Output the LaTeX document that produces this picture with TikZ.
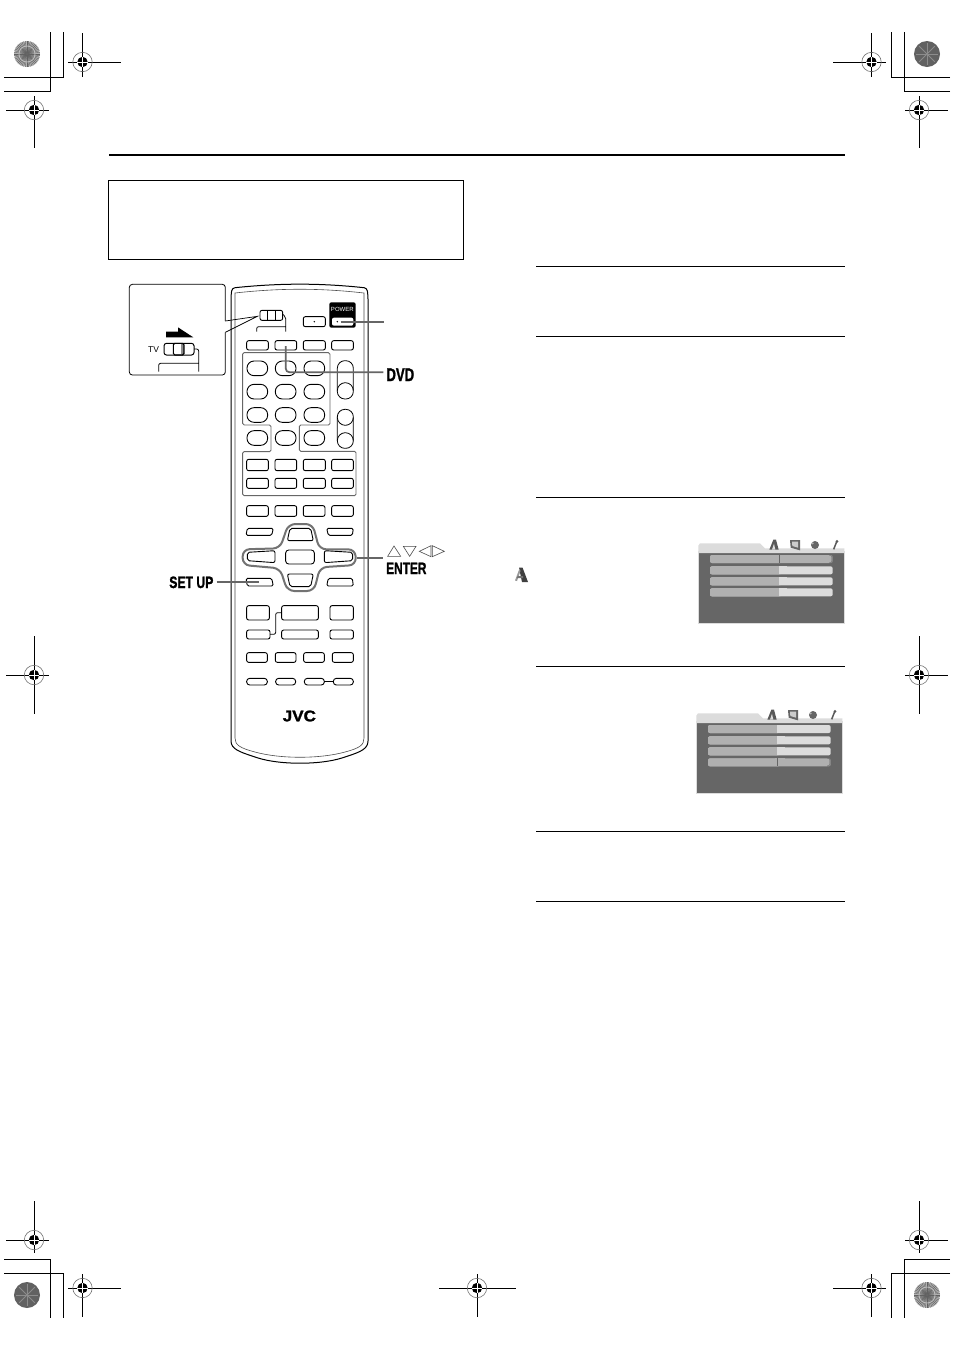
\documentclass[tikz,border=0pt]{standalone}
\usepackage{fontspec}
\setmainfont{Liberation Sans}
\newfontfamily\heavy[FakeBold=1.5]{Liberation Sans Bold}
\definecolor{lead}{HTML}{666666}
\definecolor{panel}{HTML}{666666}
\definecolor{pale}{HTML}{DCDCDC}
\definecolor{midg}{HTML}{B0B0B0}
\tikzset{
  rule/.style={draw=black,line width=1pt},
  crop/.style={draw=black,line width=0.9pt},
  btn/.style={draw=black,line width=0.9pt,rounded corners=2pt,fill=white},
  oval/.style={draw=black,line width=0.9pt,rounded corners=7pt,fill=white},
  group/.style={draw=black!60,line width=0.9pt,rounded corners=1.5pt},
  leader/.style={draw=lead,line width=1.7pt},
  tri/.style={draw=black!70,line width=0.6pt,fill=white},
  lbl/.style={inner sep=0pt,font=\heavy}
}
\newcommand{\regmk}[7]{% x y left right up down name
  \coordinate (#7) at (#1,#2);
  \draw[crop] (#3,#2) -- (#4,#2) (#1,#5) -- (#1,#6);
  \draw[black!55,line width=0.6pt] (#7) circle (9.7);
  \fill[black] (#7) circle (5.2);
  \draw[white,line width=0.6pt] (#1-5.2,#2) -- (#1+5.2,#2) (#1,#2-5.2) -- (#1,#2+5.2);
}
\newcommand{\burst}[2]{%
  \fill[black!30] (#1,#2) circle (13);
  \foreach \a in {0,7.5,...,352.5} {
    \draw[black!62,line width=0.4pt] (#1,#2) -- ++(\a:13);
  }
  \draw[white!75!black,line width=0.7pt] (#1,#2) circle (8);
  \fill[black!60] (#1,#2) circle (1.4);
}
\newcommand{\gdisc}[2]{%
  \fill[black!62] (#1,#2) circle (13);
  \foreach \a in {0,45,...,315} {
    \draw[black!45,line width=1pt] (#1,#2) -- ++(\a:11);
  }
}
\newcommand{\scrn}[4]{% x y bar1color bar4color
  \begin{scope}[shift={(#1,#2)},scale=0.33333]
    \fill[panel] (25,50) rectangle (463,265);
    \draw[pale,line width=0.8pt] (25,50) rectangle (463,265);
    \fill[pale] (25,54) -- (25,32) -- (30,25) -- (210,25) -- (225,40) -- (463,40) -- (463,54) -- cycle;
    \foreach \y/\c in {60/#3,94/pale,127/pale,160/#4} {
      \fill[\c,rounded corners=2pt] (60,\y) rectangle (428,\y+24);
      \fill[midg,rounded corners=2pt] (60,\y) rectangle (276,\y+24);
      \fill[midg] (262,\y) rectangle (268,\y+24);
      \fill[\c] (268,\y) rectangle (290,\y+24);
    }
    % menu icons
    \fill[black!65] (238,44) -- (250,14) -- (258,14) -- (266,44) -- cycle;
    \fill[pale] (246,44) -- (252,26) -- (256,44) -- cycle;
    \fill[black!60] (300,15) -- (330,15) -- (330,46) -- (302,38) -- cycle;
    \fill[black!20] (306,20) -- (324,20) -- (324,38) -- (307,33) -- cycle;
    \fill[black!60] (375,30) circle (12);
    \fill[black!30] (368,25) circle (3.5);
    \draw[black!65,line width=1.5pt] (431,43) -- (440,20);
    \fill[black!65] (441,19) circle (4.5);
  \end{scope}
}
\begin{document}
\begin{tikzpicture}[x=1pt,y=-1pt]
\useasboundingbox (0,0) rectangle (954,1350);
\fill[white] (0,0) rectangle (954,1350);

% crop marks and registration marks
\draw[crop] (4,77) -- (63,77) -- (63,32) (4,91) -- (50,91) -- (50,32);
\draw[crop] (950,77) -- (891,77) -- (891,32) (950,91) -- (904,91) -- (904,32);
\draw[crop] (4,1259) -- (50,1259) -- (50,1318) (4,1273) -- (63,1273) -- (63,1318);
\draw[crop] (950,1259) -- (904,1259) -- (904,1318) (950,1273) -- (891,1273) -- (891,1318);
\burst{27}{54}
\gdisc{927}{54}
\gdisc{27}{1295}
\burst{927}{1295}
\regmk{82.5}{62}{68}{121}{33}{77}{ra}
\regmk{34}{110}{6}{49}{96}{148}{rb}
\regmk{871.5}{62}{833}{886}{33}{77}{rc}
\regmk{919}{110}{905}{948}{96}{148}{rd}
\regmk{34}{675}{6}{49}{636}{714}{re}
\regmk{919}{675}{905}{948}{636}{714}{rf}
\regmk{34}{1240}{6}{49}{1201}{1253}{rg}
\regmk{919}{1240}{905}{948}{1201}{1253}{rh}
\regmk{82.5}{1288}{68}{121}{1274}{1317}{ri}
\regmk{477}{1288}{439}{516}{1274}{1317}{rj}
\regmk{871.5}{1288}{833}{886}{1274}{1317}{rk}

% page rules and box
\draw[black,line width=2pt] (109,155) -- (845,155);
\draw[black,line width=0.9pt] (108.6,180) rectangle (463.6,259.6);
\foreach \y in {266,336,497,666,831,901} { \draw[rule] (536,\y) -- (845,\y); }

% remote body
\draw[black,line width=1pt,rounded corners=3pt] (231,296) -- (232,288) .. controls (280,283) and (320,283) .. (367,288) -- (368,296) -- (368,738) .. controls (368,749) and (360,752) .. (345,757) .. controls (320,765) and (280,765) .. (255,757) .. controls (240,752) and (231,749) .. (231,738) -- cycle;
\draw[black!70,line width=0.6pt] (235,300) -- (235,738) .. controls (235,745) and (240,748) .. (255,752) .. controls (280,759) and (320,759) .. (345,752) .. controls (360,748) and (364,745) .. (364,738) -- (364,300) -- (364,293) .. controls (320,288) and (280,288) .. (235,293) -- cycle;

% inset
\begin{scope}[shift={(120,275)},scale=0.33333]
  \coordinate (insA) at (316,138);
  \coordinate (insB) at (316,172);
  \coordinate (swTip) at (412,124);
  \draw[black,line width=0.8pt,rounded corners=3pt] (insA) -- (316,28) -- (28,28) -- (28,300) -- (316,300) -- (insB);
  \draw[black,line width=0.7pt] (insA) -- (swTip) -- (insB);
  \fill[black] (138,170) -- (174,170) -- (174,157) -- (220,187) -- (138,187) -- cycle;
  \node[inner sep=0pt,font=\fontsize{8.5}{9}\selectfont] (tvlabel) at (101,225) {TV};
  \draw[btn,line width=1pt,rounded corners=2.5pt] (132,205) rectangle (222,240);
  \fill[black!45] (183,207) rectangle (192,238);
  \draw[black,line width=1.1pt,rounded corners=1.5pt] (160,205) rectangle (192,240);
  \draw[black,line width=0.8pt,rounded corners=2pt] (222,222) -- (236,222) -- (236,290) (116,290) -- (116,265) -- (236,265);
\end{scope}

% upper part of the remote
\begin{scope}[shift={(120,275)},scale=0.33333]
  \draw[btn] (420,106) rectangle (488,136);
  \draw[black,line width=0.9pt] (442,106) -- (442,136) (465,106) -- (465,136);
  \draw[black,line width=0.8pt,rounded corners=2pt] (488,118) -- (497,125) -- (497,170) (410,170) -- (410,155) -- (497,155);
  \draw[btn] (550,125) rectangle (616,155);
  \fill[black] (583,140) circle (2.4);
  \fill[black,rounded corners=2pt] (628,82) rectangle (707,158);
  \node[inner sep=0pt,text=white,font=\fontsize{6}{7}\selectfont] (powerlabel) at (667,104) {POWER};
  \fill[white,rounded corners=2pt] (636,128) rectangle (700,152);
  \fill[black] (652,140) circle (2.4);
  \coordinate (powbtn) at (662,140);
  \coordinate (powend) at (793,140);
  % rows of rectangular keys
  \foreach \a/\b in {380/445,465/530,550/616,635/700} {
    \draw[btn] (\a,197) rectangle (\b,225);
    \draw[btn] (\a,553) rectangle (\b,587);
    \draw[btn] (\a,610) rectangle (\b,640);
  }
  % key groups
  \draw[group] (368,233) -- (630,233) -- (630,450) -- (538,450) -- (538,529) -- (708,529) -- (708,662) -- (368,662) -- (368,530) -- (453,530) -- (453,450) -- (368,450) -- cycle;
  % oval keys
  \foreach \y in {280,350,420,489} {
    \foreach \x in {412,497,583} {
      \draw[oval] (\x-31,\y-22) rectangle (\x+31,\y+22);
    }
  }
  % rockers
  \draw[black,line width=0.8pt,rounded corners=7.5pt] (652,257) rectangle (700,372);
  \draw[black,line width=0.8pt] (652,347) arc[start angle=180,end angle=360,radius=24];
  \draw[black,line width=0.8pt,rounded corners=7.5pt] (652,403) rectangle (700,520);
  \draw[black,line width=0.8pt] (652,427) arc[start angle=180,end angle=0,radius=24];
  \draw[black,line width=0.8pt] (652,497) arc[start angle=180,end angle=360,radius=24];
  % leaders
  \coordinate (dvdbtn) at (497,213);
  \coordinate (dvdbend) at (497,292);
  \coordinate (dvdend) at (790,292);
  \draw[leader,rounded corners=4pt] (dvdbtn) -- (dvdbend) -- (dvdend);
  \draw[leader] (powbtn) -- (powend);
  \node[lbl,anchor=center] (dvdlabel) at (841,299) {\fontsize{18.5}{20}\selectfont\scalebox{0.71}[1]{DVD}};
\end{scope}

% lower part of the remote
\begin{scope}[shift={(160,490)},scale=0.33333]
  \foreach \a/\b in {260/325,345/410,430/495,515/580} {
    \draw[btn] (\a,47) rectangle (\b,79);
  }
  \foreach \a/\b/\c/\d in {262/340/258/335,500/580/505/577} {
    \draw[btn,rounded corners=1.5pt] (\a,115) -- (\b,115) -- (\d,136) -- (\c,136) -- cycle;
  }
  \foreach \a/\b/\c/\d in {262/340/258/335,500/580/505/577} {
    \draw[btn,rounded corners=1.5pt] (\c,265) -- (\d,265) -- (\b,288) -- (\a,288) -- cycle;
  }
  % D-pad surround
  \draw[draw=black!55,line width=2pt,fill=white,rounded corners=7pt] (385,102) -- (458,102) -- (478,178) -- (586,178) -- (588,225) -- (480,232) -- (462,303) -- (382,303) -- (360,235) -- (248,225) -- (248,178) -- (360,175) -- cycle;
  \draw[btn] (390,115) -- (452,115) -- (460,152) -- (382,152) -- cycle;
  \draw[btn] (382,252) -- (460,252) -- (452,290) -- (390,290) -- cycle;
  \draw[btn] (262,187) -- (345,182) -- (345,218) -- (262,212) -- cycle;
  \draw[btn] (493,182) -- (578,187) -- (578,212) -- (493,218) -- cycle;
  \draw[btn,rounded corners=3pt] (377,180) rectangle (463,222);
  % keys below
  \draw[btn] (260,347) rectangle (328,390);
  \draw[btn] (365,347) rectangle (475,390);
  \draw[btn] (510,347) rectangle (580,390);
  \draw[btn] (260,420) rectangle (330,447);
  \draw[btn] (365,420) rectangle (475,447);
  \draw[btn] (510,420) rectangle (580,447);
  \draw[black,line width=0.8pt,rounded corners=2pt] (330,433) -- (347,433) -- (347,368) -- (365,368);
  \foreach \a/\b in {260/322,346/408,431/493,517/580} {
    \draw[btn] (\a,488) rectangle (\b,517);
  }
  \draw[black,line width=0.8pt] (493,575) -- (520,575);
  \foreach \a/\b in {260/322,347/407,433/493,520/580} {
    \draw[btn,rounded corners=3pt] (\a,565) rectangle (\b,585);
  }
  \node[lbl] (jvclabel) at (418,678) {\fontsize{15.5}{18}\selectfont\scalebox{1.1}[1]{JVC}};
  % leaders and labels
  \coordinate (setkey) at (298,276);
  \coordinate (setend) at (170,276);
  \coordinate (padkey) at (590,203);
  \coordinate (padend) at (670,203);
  \draw[leader] (setend) -- (setkey);
  \draw[leader] (padkey) -- (padend);
  \node[lbl] (setlabel) at (94,277) {\fontsize{16.5}{18}\selectfont\scalebox{0.74}[1]{SET UP}};
  \node[lbl] (enterlabel) at (739,235) {\fontsize{16.5}{18}\selectfont\scalebox{0.72}[1]{ENTER}};
  \draw[tri] (683,199) -- (702,168) -- (722,199) -- cycle;
  \draw[tri] (730,169) -- (768,169) -- (749,199) -- cycle;
  \draw[tri] (813,167) -- (813,200) -- (778,184) -- cycle;
  \draw[tri] (817,167) -- (817,200) -- (853,184) -- cycle;
\end{scope}

% right column
\scrn{690}{535}{midg}{pale}
\scrn{688}{705}{pale}{midg}
\draw[black!60,line width=0.6pt] (779,555) -- (779,563);
\draw[black!60,line width=0.6pt,rounded corners=1.5pt] (829,555) -- (832,555) -- (832,563) -- (829,563);
\draw[black!60,line width=0.6pt] (777,758) -- (777,766);
\draw[black!60,line width=0.6pt,rounded corners=1.5pt] (827,758) -- (830,758) -- (830,766) -- (827,766);
% standalone menu icon
\fill[black!75] (519,567.5) -- (522.5,567.5) -- (528,582) -- (522,582) -- cycle;
\fill[black!40] (515,580.5) -- (519.5,568.5) -- (520.5,571) -- (517,581) -- cycle;
\fill[black!55] (517.5,576) -- (523,576) -- (523,578) -- (517,578) -- cycle;
\end{tikzpicture}
\end{document}
